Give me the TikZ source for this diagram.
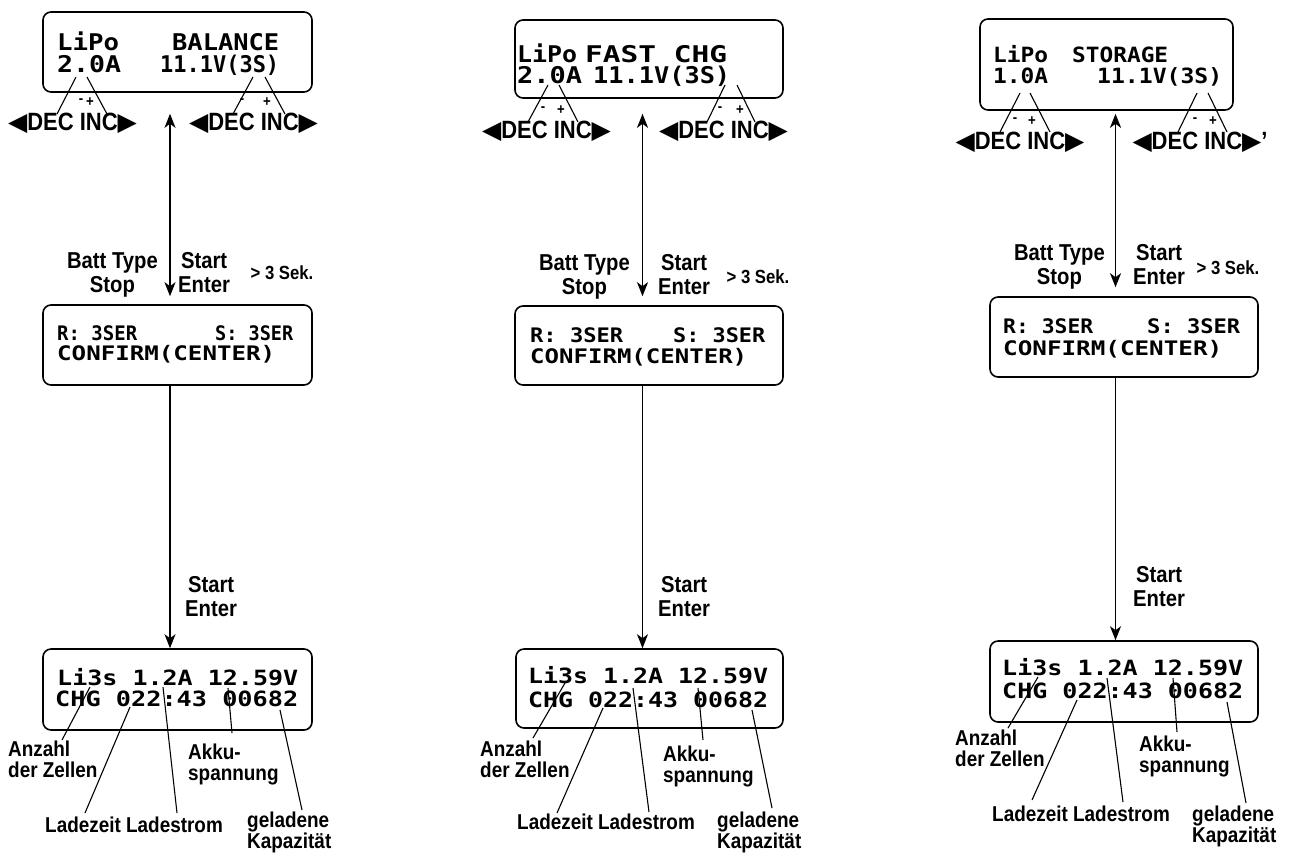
\documentclass[tikz,border=0pt]{standalone}
\usepackage{fontspec}
\usepackage{graphicx}
\setmainfont{Liberation Sans}[FakeStretch=0.88]
\newfontfamily\lcdfamily{DejaVu Sans Mono}
\newfontfamily\symfamily{DejaVu Sans}
\usetikzlibrary{arrows.meta}
\newcommand\lcdw[2]{\resizebox{#1pt}{\height}{#2}}
\newcommand\keys{{\symfamily\char"25C0}DEC INC{\symfamily\char"25B6}}
\tikzset{
  lcdbox/.style={draw, line width=1.6pt, rounded corners=8pt, inner sep=0pt},
  lcdA/.style={anchor=base west, inner sep=0pt, font={\lcdfamily\bfseries\fontsize{23pt}{23pt}\selectfont}},
  lcdAs/.style={anchor=base west, inner sep=0pt, font={\lcdfamily\bfseries\fontsize{21pt}{21pt}\selectfont}},
  lcdB/.style={anchor=base west, inner sep=0pt, font={\lcdfamily\bfseries\fontsize{20pt}{20pt}\selectfont}},
  lcdC/.style={anchor=base west, inner sep=0pt, font={\lcdfamily\bfseries\fontsize{21pt}{21pt}\selectfont}},
  keylbl/.style={inner sep=0pt, font={\bfseries\fontsize{25pt}{25pt}\selectfont}},
  pm/.style={inner sep=0pt, font={\bfseries\fontsize{15pt}{15pt}\selectfont}},
  btnlbl/.style={inner sep=0pt, align=center, font={\bfseries\fontsize{23pt}{24pt}\selectfont}},
  seklbl/.style={inner sep=0pt, font={\bfseries\fontsize{19pt}{19pt}\selectfont}},
  annlbl/.style={inner sep=0pt, align=left, anchor=north west, font={\bfseries\fontsize{21.5pt}{20.5pt}\selectfont}},
  dblarrow/.style={line width=1.9pt, {Stealth[length=14pt,width=11pt,inset=4pt]}-{Stealth[length=14pt,width=11pt,inset=4pt]}},
  conn/.style={line width=1.3pt, -{Stealth[length=14pt,width=11pt,inset=4pt]}},
  leader/.style={line width=1.1pt}
}
\begin{document}
\begin{tikzpicture}[x=1pt,y=-1pt]
\useasboundingbox[fill=white] (0,0) rectangle (1289,852);

% ================= Column 1 =================
\node[lcdbox, minimum width=269pt, minimum height=80pt] (t1) at (177.5,52) {};
\node[lcdA] (t1a) at (57,50) {\lcdw{62}{LiPo}};
\node[lcdA] (t1b) at (172,50) {\lcdw{107}{BALANCE}};
\node[lcdA] (t1c) at (57,72) {\lcdw{64}{2.0A}};
\node[lcdA] (t1d) at (160,72) {\lcdw{119}{11.1V(3S)}};
\node[keylbl] (k1l) at (72.5,123) {\keys};
\node[keylbl] (k1r) at (253.5,123) {\keys};
\node[pm] (m1l) at (81,101) {-};
\node[pm] (p1l) at (90,102) {+};
\node[pm] (m1r) at (242,101) {-};
\node[pm] (p1r) at (267,102) {+};
\coordinate (c1a) at (76,77);  \coordinate (c1b) at (57,114);
\coordinate (c1c) at (87,77);  \coordinate (c1d) at (107,114);
\coordinate (c1e) at (253,77); \coordinate (c1f) at (233,114);
\coordinate (c1g) at (265,77); \coordinate (c1h) at (285,114);
\draw[leader] (c1a) -- (c1b);
\draw[leader] (c1c) -- (c1d);
\draw[leader] (c1e) -- (c1f);
\draw[leader] (c1g) -- (c1h);

\node[lcdbox, minimum width=269pt, minimum height=80pt] (m1) at (177.5,345) {};
\node[lcdB] (m1a) at (57,340) {\lcdw{80}{R: 3SER}};
\node[lcdB] (m1b) at (215,340) {\lcdw{78}{S: 3SER}};
\node[lcdB] (m1c) at (57,360) {\lcdw{218}{CONFIRM(CENTER)}};

\node[lcdbox, minimum width=269pt, minimum height=81pt] (b1) at (177.5,689.5) {};
\node[lcdC] (b1a) at (57,685) {\lcdw{241}{Li3s 1.2A 12.59V}};
\node[lcdC] (b1b) at (55,706) {\lcdw{243}{CHG 022:43 00682}};

\coordinate (ax1) at (170,0);
\draw[dblarrow, shorten <=21pt, shorten >=8pt] (t1.south -| ax1) -- (m1.north -| ax1);
\draw[conn] (m1.south -| ax1) -- (b1.north -| ax1);
\node[btnlbl, anchor=north east] (bt1) at (158,252) {Batt Type\\Stop};
\node[btnlbl, anchor=north west] (st1) at (178,252) {Start\\Enter};
\node[seklbl] (sk1) at (282,273) {> 3 Sek.};
\node[btnlbl, anchor=north west] (se1) at (185,576) {Start\\Enter};

\node[annlbl] (an1) at (8,741) {Anzahl\\der Zellen};
\node[annlbl] (lz1) at (45,817) {Ladezeit Ladestrom};
\node[annlbl] (ak1) at (188,744) {Akku-\\spannung};
\node[annlbl] (gk1) at (247,812) {geladene\\Kapazität};
\coordinate (d1a) at (90,687);  \coordinate (d1b) at (62,740);
\coordinate (d1c) at (130,707); \coordinate (d1d) at (85,813);
\coordinate (d1e) at (163,687); \coordinate (d1f) at (177,813);
\coordinate (d1g) at (228,688); \coordinate (d1h) at (232,733);
\coordinate (d1i) at (280,710); \coordinate (d1j) at (302,810);
\draw[leader] (d1a) -- (d1b);
\draw[leader] (d1c) -- (d1d);
\draw[leader] (d1e) -- (d1f);
\draw[leader] (d1g) -- (d1h);
\draw[leader] (d1i) -- (d1j);

% ================= Column 2 =================
\node[lcdbox, minimum width=268pt, minimum height=78pt] (t2) at (649,59) {};
\node[lcdA] (t2a) at (517,62) {\lcdw{60}{LiPo}};
\node[lcdA] (t2b) at (585,62) {\lcdw{142}{FAST CHG}};
\node[lcdA] (t2c) at (517,83) {\lcdw{65}{2.0A}};
\node[lcdA] (t2d) at (593,83) {\lcdw{137}{11.1V(3S)}};
\node[keylbl] (k2l) at (546.5,131) {\keys};
\node[keylbl] (k2r) at (723.5,131) {\keys};
\node[pm] (m2l) at (543,109) {-};
\node[pm] (p2l) at (561,110) {+};
\node[pm] (m2r) at (720,109) {-};
\node[pm] (p2r) at (740,110) {+};
\coordinate (c2a) at (548,85);  \coordinate (c2b) at (528,122);
\coordinate (c2c) at (559,85);  \coordinate (c2d) at (578,122);
\coordinate (c2e) at (725,85);  \coordinate (c2f) at (707,122);
\coordinate (c2g) at (737,85);  \coordinate (c2h) at (755,122);
\draw[leader] (c2a) -- (c2b);
\draw[leader] (c2c) -- (c2d);
\draw[leader] (c2e) -- (c2f);
\draw[leader] (c2g) -- (c2h);

\node[lcdbox, minimum width=268pt, minimum height=79pt] (m2) at (649,345.5) {};
\node[lcdB] (m2a) at (530,342) {\lcdw{93}{R: 3SER}};
\node[lcdB] (m2b) at (673,342) {\lcdw{92}{S: 3SER}};
\node[lcdB] (m2c) at (530,363) {\lcdw{217}{CONFIRM(CENTER)}};

\node[lcdbox, minimum width=267pt, minimum height=79pt] (b2) at (649.5,688.5) {};
\node[lcdC] (b2a) at (528,683) {\lcdw{240}{Li3s 1.2A 12.59V}};
\node[lcdC] (b2b) at (528,707) {\lcdw{240}{CHG 022:43 00682}};

\coordinate (ax2) at (642.5,0);
\draw[dblarrow, shorten <=15pt, shorten >=9pt] (t2.south -| ax2) -- (m2.north -| ax2);
\draw[conn] (m2.south -| ax2) -- (b2.north -| ax2);
\node[btnlbl, anchor=north east] (bt2) at (630,254) {Batt Type\\Stop};
\node[btnlbl, anchor=north west] (st2) at (658,254) {Start\\Enter};
\node[seklbl] (sk2) at (758,277) {> 3 Sek.};
\node[btnlbl, anchor=north west] (se2) at (658,576) {Start\\Enter};

\node[annlbl] (an2) at (480,741) {Anzahl\\der Zellen};
\node[annlbl] (lz2) at (517,814) {Ladezeit Ladestrom};
\node[annlbl] (ak2) at (663,746) {Akku-\\spannung};
\node[annlbl] (gk2) at (717,812) {geladene\\Kapazität};
\coordinate (d2a) at (565,683); \coordinate (d2b) at (533,738);
\coordinate (d2c) at (603,708); \coordinate (d2d) at (557,813);
\coordinate (d2e) at (633,688); \coordinate (d2f) at (649,812);
\coordinate (d2g) at (698,688); \coordinate (d2h) at (703,740);
\coordinate (d2i) at (752,710); \coordinate (d2j) at (772,808);
\draw[leader] (d2a) -- (d2b);
\draw[leader] (d2c) -- (d2d);
\draw[leader] (d2e) -- (d2f);
\draw[leader] (d2g) -- (d2h);
\draw[leader] (d2i) -- (d2j);

% ================= Column 3 =================
\node[lcdbox, minimum width=253pt, minimum height=91pt] (t3) at (1106.5,64.5) {};
\node[lcdAs] (t3a) at (993,62) {\lcdw{55}{LiPo}};
\node[lcdAs] (t3b) at (1072,62) {\lcdw{96}{STORAGE}};
\node[lcdAs] (t3c) at (993,83) {\lcdw{55}{1.0A}};
\node[lcdAs] (t3d) at (1097,83) {\lcdw{125}{11.1V(3S)}};
\node[keylbl] (k3l) at (1020,142) {\keys};
\node[keylbl] (k3r) at (1200,142) {\keys'};
\node[pm] (m3l) at (1015,120) {-};
\node[pm] (p3l) at (1032,121) {+};
\node[pm] (m3r) at (1195,120) {-};
\node[pm] (p3r) at (1213,121) {+};
\coordinate (c3a) at (1020,93);  \coordinate (c3b) at (1000,132);
\coordinate (c3c) at (1030,93);  \coordinate (c3d) at (1050,132);
\coordinate (c3e) at (1197,93);  \coordinate (c3f) at (1178,132);
\coordinate (c3g) at (1208,93);  \coordinate (c3h) at (1227,132);
\draw[leader] (c3a) -- (c3b);
\draw[leader] (c3c) -- (c3d);
\draw[leader] (c3e) -- (c3f);
\draw[leader] (c3g) -- (c3h);

\node[lcdbox, minimum width=268pt, minimum height=80pt] (m3) at (1124,337) {};
\node[lcdB] (m3a) at (1003,333) {\lcdw{90}{R: 3SER}};
\node[lcdB] (m3b) at (1147,333) {\lcdw{93}{S: 3SER}};
\node[lcdB] (m3c) at (1003,355) {\lcdw{219}{CONFIRM(CENTER)}};

\node[lcdbox, minimum width=268pt, minimum height=81pt] (b3) at (1124,681.5) {};
\node[lcdC] (b3a) at (1002,675) {\lcdw{241}{Li3s 1.2A 12.59V}};
\node[lcdC] (b3b) at (1002,698) {\lcdw{241}{CHG 022:43 00682}};

\coordinate (ax3) at (1115.5,0);
\draw[dblarrow, shorten <=3pt, shorten >=9pt] (t3.south -| ax3) -- (m3.north -| ax3);
\draw[conn] (m3.south -| ax3) -- (b3.north -| ax3);
\node[btnlbl, anchor=north east] (bt3) at (1105,244) {Batt Type\\Stop};
\node[btnlbl, anchor=north west] (st3) at (1133,244) {Start\\Enter};
\node[seklbl] (sk3) at (1228,268) {> 3 Sek.};
\node[btnlbl, anchor=north west] (se3) at (1133,566) {Start\\Enter};

\node[annlbl] (an3) at (955,730) {Anzahl\\der Zellen};
\node[annlbl] (lz3) at (992,806) {Ladezeit Ladestrom};
\node[annlbl] (ak3) at (1139,736) {Akku-\\spannung};
\node[annlbl] (gk3) at (1192,806) {geladene\\Kapazität};
\coordinate (d3a) at (1038,677); \coordinate (d3b) at (1008,728);
\coordinate (d3c) at (1077,700); \coordinate (d3d) at (1032,800);
\coordinate (d3e) at (1107,678); \coordinate (d3f) at (1123,802);
\coordinate (d3g) at (1173,678); \coordinate (d3h) at (1177,732);
\coordinate (d3i) at (1227,702); \coordinate (d3j) at (1246,803);
\draw[leader] (d3a) -- (d3b);
\draw[leader] (d3c) -- (d3d);
\draw[leader] (d3e) -- (d3f);
\draw[leader] (d3g) -- (d3h);
\draw[leader] (d3i) -- (d3j);
\end{tikzpicture}
\end{document}
